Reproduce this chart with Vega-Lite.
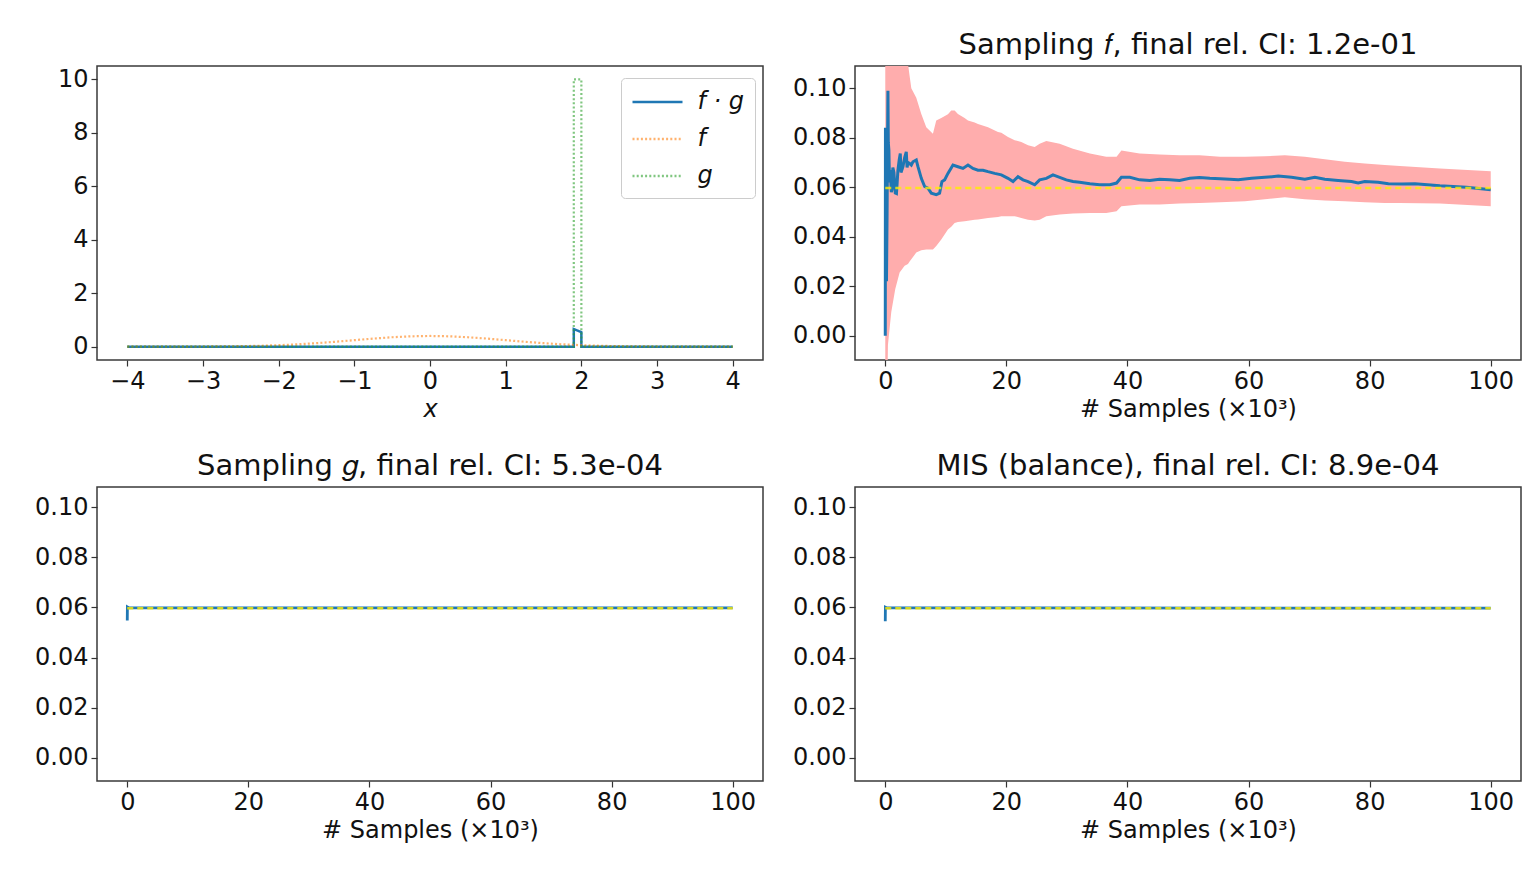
{
  "$schema": "https://vega.github.io/schema/vega-lite/v6.json",
  "background": "white",
  "padding": {"left": 33, "top": 30, "right": 5, "bottom": 5},
  "config": {
    "font": "DejaVu Sans",
    "view": {"stroke": "#3a3a3a", "strokeWidth": 1.5},
    "axis": {"labelFont": "DejaVu Sans", "labelFontSize": 24, "labelColor": "#111", "titleFont": "DejaVu Sans", "titleFontSize": 24, "titleFontWeight": "normal", "titleColor": "#111", "domain": false, "grid": false, "tickColor": "#333", "tickSize": 6, "tickWidth": 1.2, "labelPadding": 3, "titlePadding": 4},
    "title": {"font": "DejaVu Sans", "fontSize": 29, "fontWeight": "normal", "color": "#111", "offset": 6}
  },
  "datasets": {
    "fg": [
      {"x": -4, "y": 0, "i": 0, "s": "f · g"},
      {"x": 1.9, "y": 0, "i": 1, "s": "f · g"},
      {"x": 1.9, "y": 0.656, "i": 2, "s": "f · g"},
      {"x": 1.95, "y": 0.6, "i": 3, "s": "f · g"},
      {"x": 2.0, "y": 0.54, "i": 4, "s": "f · g"},
      {"x": 2.0, "y": 0, "i": 5, "s": "f · g"},
      {"x": 4, "y": 0, "i": 6, "s": "f · g"}
    ],
    "f": [
      {"x": -4, "y": 0.0001, "i": 0, "s": "f"}, {"x": -3.75, "y": 0.0004, "i": 1, "s": "f"}, {"x": -3.5, "y": 0.0009, "i": 2, "s": "f"},
      {"x": -3.25, "y": 0.002, "i": 3, "s": "f"}, {"x": -3, "y": 0.0044, "i": 4, "s": "f"}, {"x": -2.75, "y": 0.0091, "i": 5, "s": "f"},
      {"x": -2.5, "y": 0.0175, "i": 6, "s": "f"}, {"x": -2.25, "y": 0.0317, "i": 7, "s": "f"}, {"x": -2, "y": 0.054, "i": 8, "s": "f"},
      {"x": -1.75, "y": 0.0863, "i": 9, "s": "f"}, {"x": -1.5, "y": 0.1295, "i": 10, "s": "f"}, {"x": -1.25, "y": 0.1826, "i": 11, "s": "f"},
      {"x": -1, "y": 0.242, "i": 12, "s": "f"}, {"x": -0.75, "y": 0.3011, "i": 13, "s": "f"}, {"x": -0.5, "y": 0.3521, "i": 14, "s": "f"},
      {"x": -0.25, "y": 0.3867, "i": 15, "s": "f"}, {"x": 0, "y": 0.3989, "i": 16, "s": "f"}, {"x": 0.25, "y": 0.3867, "i": 17, "s": "f"},
      {"x": 0.5, "y": 0.3521, "i": 18, "s": "f"}, {"x": 0.75, "y": 0.3011, "i": 19, "s": "f"}, {"x": 1, "y": 0.242, "i": 20, "s": "f"},
      {"x": 1.25, "y": 0.1826, "i": 21, "s": "f"}, {"x": 1.5, "y": 0.1295, "i": 22, "s": "f"}, {"x": 1.75, "y": 0.0863, "i": 23, "s": "f"},
      {"x": 2, "y": 0.054, "i": 24, "s": "f"}, {"x": 2.25, "y": 0.0317, "i": 25, "s": "f"}, {"x": 2.5, "y": 0.0175, "i": 26, "s": "f"},
      {"x": 2.75, "y": 0.0091, "i": 27, "s": "f"}, {"x": 3, "y": 0.0044, "i": 28, "s": "f"}, {"x": 3.25, "y": 0.002, "i": 29, "s": "f"},
      {"x": 3.5, "y": 0.0009, "i": 30, "s": "f"}, {"x": 3.75, "y": 0.0004, "i": 31, "s": "f"}, {"x": 4, "y": 0.0001, "i": 32, "s": "f"}
    ],
    "g": [
      {"x": -4, "y": 0, "i": 0, "s": "g"},
      {"x": 1.9, "y": 0, "i": 1, "s": "g"},
      {"x": 1.9, "y": 10, "i": 2, "s": "g"},
      {"x": 2.0, "y": 10, "i": 3, "s": "g"},
      {"x": 2.0, "y": 0, "i": 4, "s": "g"},
      {"x": 4, "y": 0, "i": 5, "s": "g"}
    ],
    "ci_f": [
      {"n": 0.0, "lo": -0.3, "hi": 0.4}, {"n": 0.2, "lo": -0.05, "hi": 0.3}, {"n": 0.44, "lo": -0.0037, "hi": 0.2},
      {"n": 0.99, "lo": 0.0096, "hi": 0.16}, {"n": 1.65, "lo": 0.0189, "hi": 0.13}, {"n": 2.37, "lo": 0.0256, "hi": 0.12},
      {"n": 3.2, "lo": 0.0283, "hi": 0.115}, {"n": 3.75, "lo": 0.029, "hi": 0.11}, {"n": 4.02, "lo": 0.030, "hi": 0.105},
      {"n": 4.3, "lo": 0.0309, "hi": 0.1}, {"n": 5.12, "lo": 0.0336, "hi": 0.0962}, {"n": 5.95, "lo": 0.0345, "hi": 0.0896},
      {"n": 6.77, "lo": 0.0349, "hi": 0.0843}, {"n": 7.87, "lo": 0.0349, "hi": 0.0816}, {"n": 8.42, "lo": 0.0363, "hi": 0.087},
      {"n": 9.25, "lo": 0.0389, "hi": 0.088}, {"n": 10.35, "lo": 0.0429, "hi": 0.0895}, {"n": 10.9, "lo": 0.044, "hi": 0.091},
      {"n": 11.45, "lo": 0.0456, "hi": 0.091}, {"n": 12.0, "lo": 0.046, "hi": 0.0896}, {"n": 13.1, "lo": 0.0463, "hi": 0.088},
      {"n": 13.66, "lo": 0.0465, "hi": 0.087}, {"n": 14.76, "lo": 0.0469, "hi": 0.0862}, {"n": 15.31, "lo": 0.047, "hi": 0.0856},
      {"n": 16.97, "lo": 0.0476, "hi": 0.0843}, {"n": 18.62, "lo": 0.048, "hi": 0.0823}, {"n": 19.17, "lo": 0.0483, "hi": 0.082},
      {"n": 20.27, "lo": 0.0483, "hi": 0.0803}, {"n": 21.37, "lo": 0.0483, "hi": 0.079}, {"n": 22.47, "lo": 0.0476, "hi": 0.0783},
      {"n": 23.58, "lo": 0.0469, "hi": 0.077}, {"n": 24.68, "lo": 0.0466, "hi": 0.0763}, {"n": 25.5, "lo": 0.0469, "hi": 0.0776},
      {"n": 26.6, "lo": 0.0483, "hi": 0.0787}, {"n": 28.8, "lo": 0.049, "hi": 0.0776}, {"n": 31.0, "lo": 0.0494, "hi": 0.0756},
      {"n": 33.8, "lo": 0.0496, "hi": 0.0736}, {"n": 36.5, "lo": 0.0496, "hi": 0.0723}, {"n": 38.2, "lo": 0.0503, "hi": 0.0723},
      {"n": 39.0, "lo": 0.0523, "hi": 0.0749}, {"n": 42.0, "lo": 0.053, "hi": 0.0736}, {"n": 45.3, "lo": 0.053, "hi": 0.0732},
      {"n": 48.6, "lo": 0.0534, "hi": 0.0729}, {"n": 51.9, "lo": 0.0536, "hi": 0.0729}, {"n": 55.3, "lo": 0.0539, "hi": 0.0723},
      {"n": 59.4, "lo": 0.0543, "hi": 0.0723}, {"n": 62.7, "lo": 0.0552, "hi": 0.0725}, {"n": 66.0, "lo": 0.056, "hi": 0.0729},
      {"n": 69.3, "lo": 0.0552, "hi": 0.0723}, {"n": 72.6, "lo": 0.0547, "hi": 0.0713}, {"n": 75.9, "lo": 0.0543, "hi": 0.0703},
      {"n": 79.2, "lo": 0.0539, "hi": 0.0696}, {"n": 82.5, "lo": 0.0536, "hi": 0.069}, {"n": 85.0, "lo": 0.0536, "hi": 0.0686},
      {"n": 91.6, "lo": 0.0534, "hi": 0.0676}, {"n": 100, "lo": 0.0523, "hi": 0.0665}
    ],
    "est_f": [
      {"n": 0, "v": 0.0}, {"n": 0.03, "v": 0.084}, {"n": 0.12, "v": 0.083}, {"n": 0.2, "v": 0.022}, {"n": 0.3, "v": 0.05},
      {"n": 0.44, "v": 0.099}, {"n": 0.5, "v": 0.078}, {"n": 0.6, "v": 0.0749}, {"n": 0.7, "v": 0.062}, {"n": 0.82, "v": 0.0669},
      {"n": 1.0, "v": 0.058}, {"n": 1.1, "v": 0.059}, {"n": 1.25, "v": 0.068}, {"n": 1.43, "v": 0.066}, {"n": 1.65, "v": 0.0577},
      {"n": 1.85, "v": 0.0575}, {"n": 2.09, "v": 0.0669}, {"n": 2.3, "v": 0.071}, {"n": 2.48, "v": 0.0736}, {"n": 2.6, "v": 0.066},
      {"n": 2.92, "v": 0.0683}, {"n": 3.2, "v": 0.072}, {"n": 3.47, "v": 0.0743}, {"n": 3.6, "v": 0.068}, {"n": 3.75, "v": 0.07},
      {"n": 4.02, "v": 0.0696}, {"n": 4.3, "v": 0.069}, {"n": 4.57, "v": 0.0703}, {"n": 5.12, "v": 0.071}, {"n": 5.4, "v": 0.0683},
      {"n": 5.95, "v": 0.0636}, {"n": 6.5, "v": 0.0603}, {"n": 7.05, "v": 0.0596}, {"n": 7.6, "v": 0.0576}, {"n": 8.42, "v": 0.057},
      {"n": 8.97, "v": 0.0576}, {"n": 9.36, "v": 0.0623}, {"n": 9.8, "v": 0.063}, {"n": 10.35, "v": 0.0656}, {"n": 11.18, "v": 0.069},
      {"n": 12.0, "v": 0.0683}, {"n": 12.83, "v": 0.0676}, {"n": 13.66, "v": 0.069}, {"n": 14.48, "v": 0.0676}, {"n": 15.31, "v": 0.0669},
      {"n": 16.14, "v": 0.0669}, {"n": 16.97, "v": 0.0663}, {"n": 18.07, "v": 0.0656}, {"n": 19.17, "v": 0.065}, {"n": 20.27, "v": 0.0636},
      {"n": 21.1, "v": 0.0623}, {"n": 21.92, "v": 0.0643}, {"n": 22.75, "v": 0.063}, {"n": 23.58, "v": 0.0623}, {"n": 24.68, "v": 0.061},
      {"n": 25.5, "v": 0.063}, {"n": 26.6, "v": 0.0636}, {"n": 27.7, "v": 0.065}, {"n": 28.8, "v": 0.064}, {"n": 29.9, "v": 0.063},
      {"n": 31.0, "v": 0.0623}, {"n": 32.1, "v": 0.062}, {"n": 33.8, "v": 0.0614}, {"n": 35.4, "v": 0.061}, {"n": 37.1, "v": 0.061},
      {"n": 38.2, "v": 0.0617}, {"n": 39.0, "v": 0.064}, {"n": 40.4, "v": 0.064}, {"n": 42.0, "v": 0.063}, {"n": 43.7, "v": 0.0627},
      {"n": 45.3, "v": 0.0632}, {"n": 47.0, "v": 0.063}, {"n": 48.6, "v": 0.0627}, {"n": 50.3, "v": 0.0636}, {"n": 51.9, "v": 0.0639},
      {"n": 53.6, "v": 0.0636}, {"n": 55.3, "v": 0.0634}, {"n": 56.9, "v": 0.0632}, {"n": 58.3, "v": 0.063}, {"n": 60.5, "v": 0.0636},
      {"n": 62.7, "v": 0.064}, {"n": 64.9, "v": 0.0645}, {"n": 67.1, "v": 0.064}, {"n": 69.3, "v": 0.0632}, {"n": 70.95, "v": 0.064},
      {"n": 72.6, "v": 0.0632}, {"n": 74.8, "v": 0.0627}, {"n": 77.0, "v": 0.0623}, {"n": 78.1, "v": 0.0617}, {"n": 79.2, "v": 0.0623},
      {"n": 81.4, "v": 0.062}, {"n": 83.1, "v": 0.0614}, {"n": 85.3, "v": 0.0613}, {"n": 87.5, "v": 0.0614}, {"n": 91.6, "v": 0.0606},
      {"n": 96.0, "v": 0.06}, {"n": 100, "v": 0.059}
    ],
    "est_g": [
      {"n": 0, "v": 0.0548}, {"n": 0.02, "v": 0.0602}, {"n": 0.3, "v": 0.0598}, {"n": 100, "v": 0.0598}
    ],
    "est_mis": [
      {"n": 0, "v": 0.0545}, {"n": 0.02, "v": 0.0601}, {"n": 0.3, "v": 0.0598}, {"n": 100, "v": 0.0597}
    ],
    "truth": [
      {"n": 0, "v": 0.0597}, {"n": 100, "v": 0.0597}
    ]
  },
  "columns": 2,
  "spacing": {"row": 29, "column": 27},
  "concat": [
    {
      "width": 666,
      "height": 294,
      "encoding": {
        "x": {"field": "x", "type": "quantitative", "scale": {"domain": [-4.4, 4.4], "nice": false, "zero": false}, "axis": {"values": [-4, -3, -2, -1, 0, 1, 2, 3, 4], "title": "x", "titleFontStyle": "italic"}},
        "y": {"field": "y", "type": "quantitative", "scale": {"domain": [-0.5, 10.5], "nice": false, "zero": false}, "axis": {"values": [0, 2, 4, 6, 8, 10], "title": null}},
        "order": {"field": "i", "type": "quantitative"},
        "color": {"field": "s", "type": "nominal", "scale": {"domain": ["f · g", "f", "g"], "range": ["#1f77b4", "rgba(255,127,14,0.6)", "rgba(44,160,44,0.6)"]},
          "legend": {"title": null, "orient": "none", "legendX": 524, "legendY": 12, "padding": 10, "fillColor": "white", "strokeColor": "#cccccc", "cornerRadius": 4, "symbolType": "M-2,0H2", "symbolSize": 625, "symbolOffset": 12.5, "symbolStrokeWidth": 2.4, "labelOffset": 26, "labelFontSize": 24, "labelFontStyle": "italic", "labelFont": "DejaVu Sans", "rowPadding": 11, "labelColor": "#111", "labelLimit": 0}},
        "strokeDash": {"field": "s", "type": "nominal", "scale": {"domain": ["f · g", "f", "g"], "range": [[1, 0], [2, 2.2], [2, 2.2]]},
          "legend": {"title": null, "orient": "none", "legendX": 524, "legendY": 12, "padding": 10, "fillColor": "white", "strokeColor": "#cccccc", "cornerRadius": 4, "symbolType": "M-2,0H2", "symbolSize": 625, "symbolOffset": 12.5, "symbolStrokeWidth": 2.4, "labelOffset": 26, "labelFontSize": 24, "labelFontStyle": "italic", "labelFont": "DejaVu Sans", "rowPadding": 11, "labelColor": "#111", "labelLimit": 0}}
      },
      "layer": [
        {"data": {"name": "fg"}, "mark": {"type": "line", "strokeWidth": 2.5, "clip": true}},
        {"data": {"name": "f"}, "mark": {"type": "line", "strokeWidth": 2.2, "clip": true}},
        {"data": {"name": "g"}, "mark": {"type": "line", "strokeWidth": 2.2, "clip": true}}
      ]
    },
    {
      "width": 666,
      "height": 294,
      "title": "Sampling 𝑓, final rel. CI: 1.2e-01",
      "layer": [
        {"data": {"name": "ci_f"}, "mark": {"type": "area", "color": "#ffadad", "clip": true},
          "encoding": {
            "x": {"field": "n", "type": "quantitative", "scale": {"domain": [-5, 105], "nice": false, "zero": false}, "axis": {"values": [0, 20, 40, 60, 80, 100], "title": "# Samples (×10³)"}},
            "y": {"field": "lo", "type": "quantitative", "scale": {"domain": [-0.0098, 0.109], "nice": false, "zero": false}, "axis": {"values": [0, 0.02, 0.04, 0.06, 0.08, 0.1], "format": ".2f", "title": null}},
            "y2": {"field": "hi"}
          }},
        {"data": {"name": "est_f"}, "mark": {"type": "line", "color": "#1f77b4", "strokeWidth": 3, "clip": true},
          "encoding": {"x": {"field": "n", "type": "quantitative"}, "y": {"field": "v", "type": "quantitative"}}},
        {"data": {"name": "truth"}, "mark": {"type": "line", "color": "#ffee00", "opacity": 0.8, "strokeDash": [6, 4], "strokeWidth": 2.5, "clip": true},
          "encoding": {"x": {"field": "n", "type": "quantitative"}, "y": {"field": "v", "type": "quantitative"}}}
      ]
    },
    {
      "width": 666,
      "height": 294,
      "title": "Sampling 𝑔, final rel. CI: 5.3e-04",
      "layer": [
        {"data": {"name": "est_g"}, "mark": {"type": "line", "color": "#1f77b4", "strokeWidth": 2.8, "clip": true},
          "encoding": {
            "x": {"field": "n", "type": "quantitative", "scale": {"domain": [-5, 105], "nice": false, "zero": false}, "axis": {"values": [0, 20, 40, 60, 80, 100], "title": "# Samples (×10³)"}},
            "y": {"field": "v", "type": "quantitative", "scale": {"domain": [-0.0092, 0.108], "nice": false, "zero": false}, "axis": {"values": [0, 0.02, 0.04, 0.06, 0.08, 0.1], "format": ".2f", "title": null}}
          }},
        {"data": {"name": "truth"}, "mark": {"type": "line", "color": "#ffee00", "opacity": 0.8, "strokeDash": [6, 4], "strokeWidth": 2.5, "clip": true},
          "encoding": {"x": {"field": "n", "type": "quantitative"}, "y": {"field": "v", "type": "quantitative"}}}
      ]
    },
    {
      "width": 666,
      "height": 294,
      "title": "MIS (balance), final rel. CI: 8.9e-04",
      "layer": [
        {"data": {"name": "est_mis"}, "mark": {"type": "line", "color": "#1f77b4", "strokeWidth": 2.8, "clip": true},
          "encoding": {
            "x": {"field": "n", "type": "quantitative", "scale": {"domain": [-5, 105], "nice": false, "zero": false}, "axis": {"values": [0, 20, 40, 60, 80, 100], "title": "# Samples (×10³)"}},
            "y": {"field": "v", "type": "quantitative", "scale": {"domain": [-0.0092, 0.108], "nice": false, "zero": false}, "axis": {"values": [0, 0.02, 0.04, 0.06, 0.08, 0.1], "format": ".2f", "title": null}}
          }},
        {"data": {"name": "truth"}, "mark": {"type": "line", "color": "#ffee00", "opacity": 0.8, "strokeDash": [6, 4], "strokeWidth": 2.5, "clip": true},
          "encoding": {"x": {"field": "n", "type": "quantitative"}, "y": {"field": "v", "type": "quantitative"}}}
      ]
    }
  ]
}
